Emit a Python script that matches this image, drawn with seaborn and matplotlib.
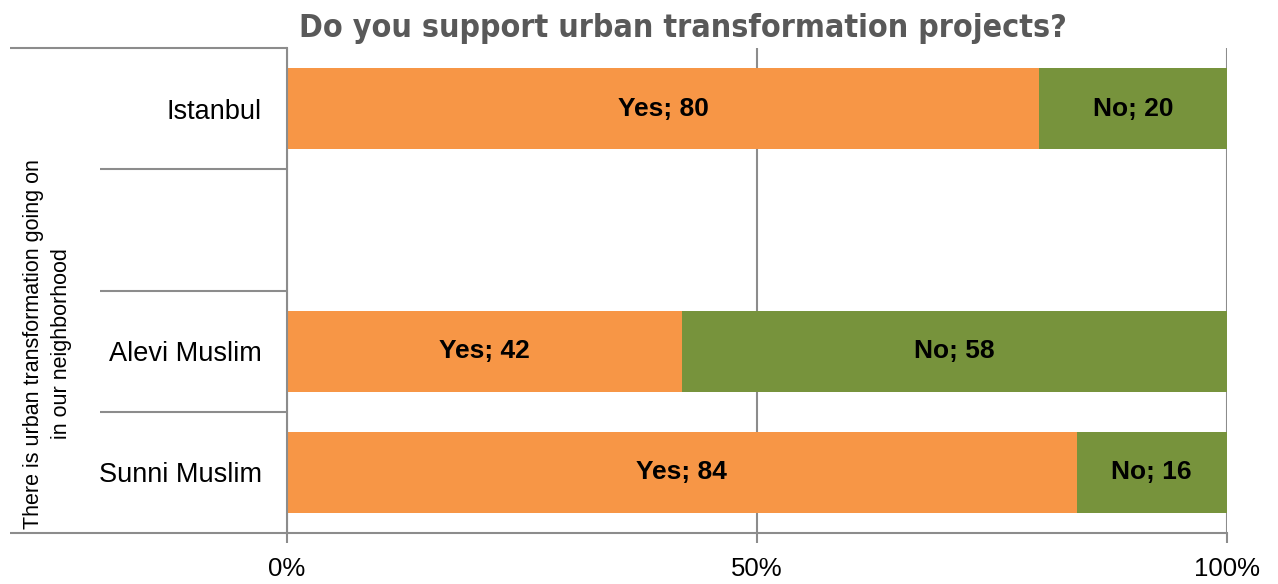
import numpy as np
import pandas as pd
import matplotlib
matplotlib.use("Agg")
import matplotlib.pyplot as plt
import seaborn as sns

# Survey answers by group (percent)
categories = ["Istanbul", " ", "Alevi Muslim", "Sunni Muslim"]
yes_values = [80, np.nan, 42, 84]
no_values = [20, np.nan, 58, 16]
tick_values = [0, 50, 100]
tick_labels = ["0%", "50%", "100%"]

title = "Do you support urban transformation projects?"
ylabel = "There is urban transformation going on\nin our neighborhood"

ORANGE = "#F79646"
GREEN = "#77933C"
GRID = "#8C8C8C"

sns.set_theme(style="white")
plt.rcParams["font.family"] = ["Liberation Sans", "DejaVu Sans"]

df = pd.DataFrame({"group": categories, "yes": yes_values, "no": no_values})
df["total"] = df["yes"] + df["no"]
plot_df = df.dropna()

fig = plt.figure(figsize=(12.78, 5.84), dpi=100)
ax = fig.add_axes([287 / 1278, 1 - 533 / 584, 940 / 1278, 485 / 584])

# stacked bars: full length in green, "yes" part in orange on top
sns.barplot(data=plot_df, x="total", y="group", order=categories, orient="h",
            color=GREEN, saturation=1, width=0.67, ax=ax, linewidth=0)
sns.barplot(data=plot_df, x="yes", y="group", order=categories, orient="h",
            color=ORANGE, saturation=1, width=0.67, ax=ax, linewidth=0)

label_kw = dict(ha="center", va="center", fontsize=19, fontweight="bold",
                color="black", family=["Liberation Sans", "DejaVu Sans"])
for _, row in plot_df.iterrows():
    yi = categories.index(row["group"])
    ax.text(row["yes"] / 2, yi, f"Yes; {row['yes']:.0f}", **label_kw)
    ax.text(row["yes"] + row["no"] / 2, yi, f"No; {row['no']:.0f}", **label_kw)

ax.set_xlim(0, 100)
ax.set_ylim(len(categories) - 0.5, -0.5)
ax.set_xticks(tick_values)
ax.set_xticklabels(tick_labels, fontsize=18.5)
ax.xaxis.grid(True, color=GRID, linewidth=1.5)
ax.set_axisbelow(True)
ax.tick_params(axis="x", length=7, width=1.5, color=GRID, direction="out",
               pad=10, bottom=True, labelcolor="black")
ax.tick_params(axis="y", length=0, pad=18, labelsize=19.5, labelcolor="black")
ax.set_xlabel("")
ax.set_ylabel(ylabel, fontsize=15.5, linespacing=1.45, color="black")
ax.yaxis.set_label_coords(-0.229, 0.39)

for s in ["top", "right"]:
    ax.spines[s].set_visible(False)
for s in ["left", "bottom"]:
    ax.spines[s].set_color(GRID)
    ax.spines[s].set_linewidth(1.5)

# category separators of the two-level axis
ytr = ax.get_yaxis_transform()
for yb in [-0.5, len(categories) - 0.5]:
    ax.plot([-0.295, 0], [yb, yb], transform=ytr, color=GRID, lw=1.5,
            clip_on=False, solid_capstyle="butt")
for yb in np.arange(0.5, len(categories) - 0.5):
    ax.plot([-0.199, 0], [yb, yb], transform=ytr, color=GRID, lw=1.5,
            clip_on=False, solid_capstyle="butt")

fig.text(0.534, 0.951, title, ha="center", va="center", fontsize=23,
         fontweight="heavy", color="#595959", fontstretch="condensed",
         family=["DejaVu Sans", "Liberation Sans"])

fig.savefig("out.png", dpi=100)
